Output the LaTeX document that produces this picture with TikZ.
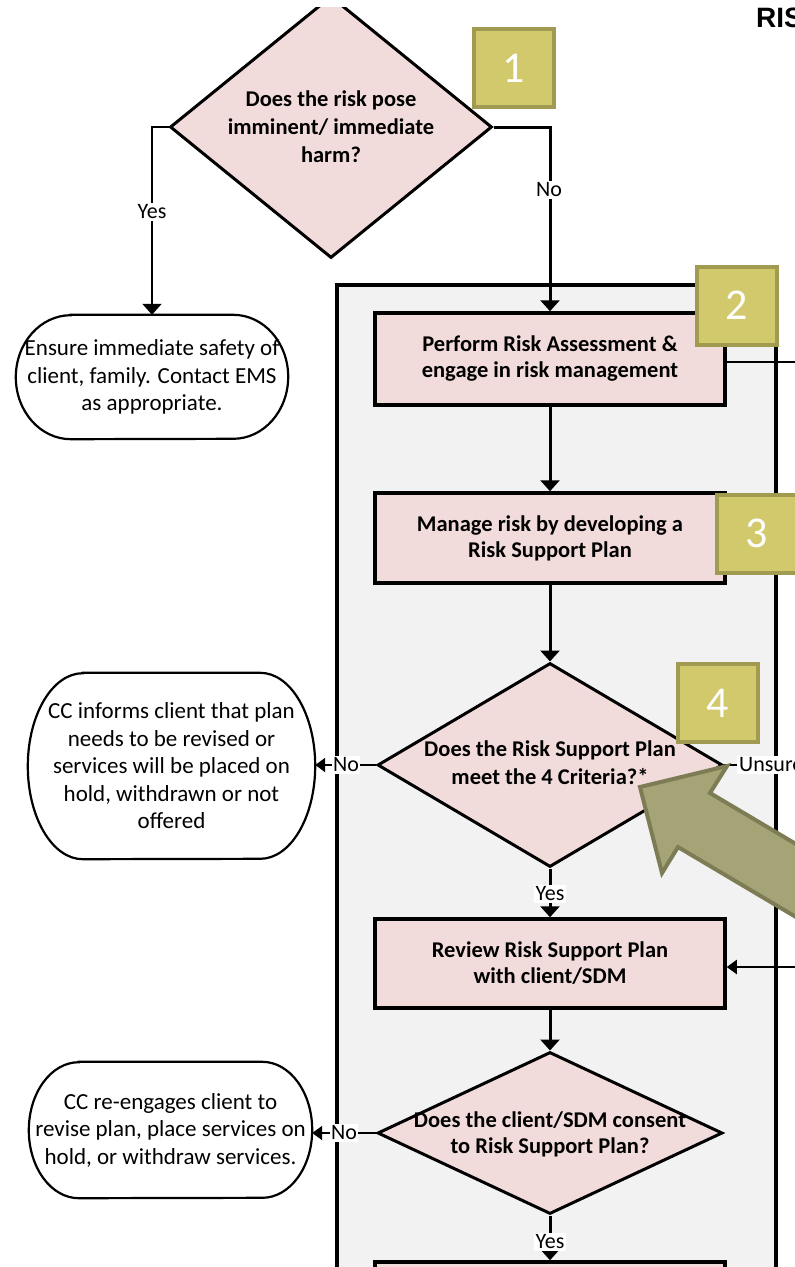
\documentclass[tikz,border=0pt]{standalone}
\usepackage{fontspec}
\setmainfont{Carlito}
\newfontfamily\titlefont{Liberation Sans}
\usetikzlibrary{shapes.geometric,arrows.meta,calc}
\definecolor{pinkfill}{HTML}{F2DCDB}
\definecolor{panelgray}{HTML}{F2F2F2}
\definecolor{badgefill}{HTML}{D2C96C}
\definecolor{badgeline}{HTML}{A09B50}
\definecolor{bigarrowfill}{HTML}{A5A477}
\definecolor{bigarrowline}{HTML}{7D7C55}
\newcommand\termshape[3]{% node, x radius, y radius
  \draw[line width=2.2pt,fill=white] ([xshift=#2]#1.north west) -- ([xshift=-#2]#1.north east)
    arc[start angle=90,end angle=-90,x radius=#2,y radius=#3]
    -- ([xshift=#2]#1.south west)
    arc[start angle=270,end angle=90,x radius=#2,y radius=#3] -- cycle;}
\tikzset{
  panelbox/.style={draw=black,line width=3.5pt,fill=panelgray,inner sep=0pt},
  procbox/.style={draw=black,line width=3.5pt,fill=pinkfill,inner sep=0pt,minimum width=350pt,
    align=center,font=\bfseries\fontsize{22.5}{26}\selectfont},
  decision/.style={diamond,draw=black,line width=3pt,fill=pinkfill,inner sep=0pt},
  dtext/.style={align=center,font=\bfseries\fontsize{22.5}{28}\selectfont,inner sep=0pt},
  termnode/.style={inner sep=0pt,align=center,font=\fontsize{23}{27.5}\selectfont},
  badge/.style={draw=badgeline,fill=badgefill,line width=4pt,minimum width=80pt,minimum height=78pt,
    text=white,font=\fontsize{44}{44}\selectfont,inner sep=0pt},
  lab/.style={fill=white,inner sep=1.5pt,font=\fontsize{22}{24}\selectfont},
  conn/.style={line width=3pt,-{Triangle[length=11pt,width=19pt]}},
  sideconn/.style={line width=2pt,-{Triangle[length=10pt,width=14pt]}},
  thinline/.style={line width=1.8pt},
}
\begin{document}
\begin{tikzpicture}[x=1pt,y=1pt]
\useasboundingbox (0,0) rectangle (795,-1267);
\clip (0,-7) rectangle (795,-1267);

% container panel
\node[panelbox,minimum width=439pt,minimum height=1015pt] (panel) at (556.5,-792.5) {};

% title fragment
\node[anchor=west,inner sep=0pt,font=\titlefont\bfseries\fontsize{28}{32}\selectfont] (title) at (756,-18) {RISK};

% decisions
\node[decision,minimum width=322pt,minimum height=262pt] (d1) at (331,-127) {};
\node[dtext] (d1t) at (d1.center) {Does the risk pose\\imminent/ immediate\\harm?};
\node[decision,minimum width=345pt,minimum height=204pt] (d2) at (550,-765) {};
\node[dtext] (d2t) at (550,-763) {Does the Risk Support Plan\\meet the 4 Criteria?*};
\node[decision,minimum width=345pt,minimum height=162pt] (d3) at (550,-1133) {};
\node[dtext,font=\bfseries\fontsize{22.5}{26}\selectfont] (d3t) at (550,-1134) {Does the client/SDM consent\\to Risk Support Plan?};

% process boxes
\node[procbox,minimum height=92pt] (b2) at (550,-359) {Perform Risk Assessment \&\\engage in risk management};
\node[procbox,minimum height=90pt] (b3) at (550,-538) {Manage risk by developing a\\Risk Support Plan};
\node[procbox,minimum height=89pt] (b4) at (550,-963.5) {Review Risk Support Plan\\with client/SDM};
\node[procbox,minimum height=90pt] (b5) at (550,-1307) {};

% terminals
\node[termnode,minimum width=272pt,minimum height=124pt] (e1) at (152,-377) {};
\termshape{e1}{55pt}{62pt}
\node[termnode] (e1t) at (152,-377) {Ensure immediate safety of\\client, family. Contact EMS\\as appropriate.};
\node[termnode,minimum width=287pt,minimum height=186pt] (e2) at (171.5,-766) {};
\termshape{e2}{55pt}{93pt}
\node[termnode] (e2t) at (171.5,-766) {CC informs client that plan\\needs to be revised or\\services will be placed on\\hold, withdrawn or not\\offered};
\node[termnode,minimum width=283pt,minimum height=136pt] (e3) at (170.5,-1130) {};
\termshape{e3}{50pt}{68pt}
\node[termnode] (e3t) at (170.5,-1130) {CC re-engages client to\\revise plan, place services on\\hold, or withdraw services.};

% connectors
\draw[conn,line width=2.2pt] (d1.west) -| (e1.north);
\node[lab] (lyes1) at (152,-212) {Yes};
\draw[conn] (d1.east) -| (b2.north);
\node[lab] (lno1) at (549,-190) {No};
\draw[conn] (b2.south) -- (b3.north);
\draw[conn] (b3.south) -- (d2.north);
\draw[sideconn] (d2.west) -- (d2.west -| e2.east);
\node[lab] (lno2) at (346,-765) {No};
\node[lab,anchor=west,inner sep=2pt] (unsure) at (737,-765) {Unsure};
\draw[thinline] (d2.east) -- (unsure.west);
\draw[conn] (d2.south) -- (b4.north);
\node[lab] (lyes2) at (550,-894) {Yes};
\draw[conn] (b4.south) -- (d3.north);
\draw[sideconn] (d3.west) -- (d3.west -| e3.east);
\node[lab] (lno3) at (344,-1133) {No};
\draw[conn] (d3.south) -- (b5.north);
\node[lab] (lyes3) at (550,-1242) {Yes};
\coordinate (r1) at (800,-362);
\draw[thinline] (b2.east |- r1) -- (r1);
\coordinate (r2) at (800,-967);
\draw[sideconn] (r2) -- (b4.east |- r2);

% badges
\node[badge] (n1) at (514,-68) {1};
\node[badge] (n2) at (736.5,-305.5) {2};
\node[badge] (n3) at (757,-533.5) {3};
\node[badge] (n4) at (717.5,-703) {4};

% big pointer arrow
\draw[draw=bigarrowline,fill=bigarrowfill,line width=4pt,line join=miter]
  (640,-787) -- (727,-766) -- (710,-793) -- (860,-882) -- (860,-955) -- (678,-847) -- (662,-873) -- cycle;
\end{tikzpicture}
\end{document}
